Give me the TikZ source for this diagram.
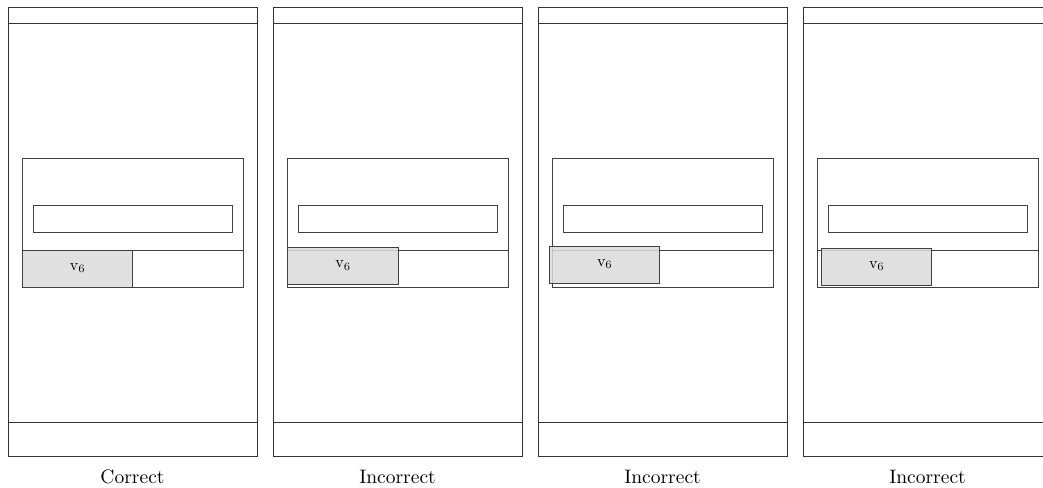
\documentclass[tikz,border=0pt]{standalone}
\usepackage{graphicx}
\tikzset{
  frame/.style={draw=black!80, line width=0.8pt},
  header/.style={draw=black!80, line width=1.4pt},
  inner/.style={draw=black!75, line width=0.7pt},
  grayv/.style={draw=black!75, line width=0.7pt, fill=gray!28, fill opacity=0.85},
  caption/.style={inner sep=0pt},
}
\newcommand\mypanel[7]{%
  \begin{scope}[shift={(#2,0)}]
    \draw[frame] (0,7) rectangle (249,456);
    \draw[header] (0,23.5) -- (249,23.5);
    \draw[frame] (0,422) -- (249,422);
    \draw[inner] (14.3,158.3) rectangle (235.3,287);
    \draw[inner] (14.3,250) -- (235.3,250);
    \draw[inner] (25.3,205) rectangle (224.3,232);
    \path[grayv] (#3,#4) rectangle (#5,#6);
    \node[inner sep=0pt] (#1v) at ({(#3+#5)/2+0.5},{(#4+#6)/2-0.5}) {\scalebox{1.6}{v$_6$}};
    \node[caption] (#1cap) at (124.5,476.5) {\scalebox{1.95}{#7}};
  \end{scope}}
\begin{document}
\begin{tikzpicture}[x=1pt,y=-1pt]
\useasboundingbox (0,0) rectangle (1043,487);
\mypanel{pa}{8}{14.3}{250}{124.3}{287}{Correct}
\mypanel{pb}{273}{14.3}{247.7}{125.3}{284.3}{Incorrect}
\mypanel{pc}{538}{11}{246.3}{121.7}{283.3}{Incorrect}
\mypanel{pd}{803}{18}{248.3}{128.7}{285}{Incorrect}
\end{tikzpicture}
\end{document}
